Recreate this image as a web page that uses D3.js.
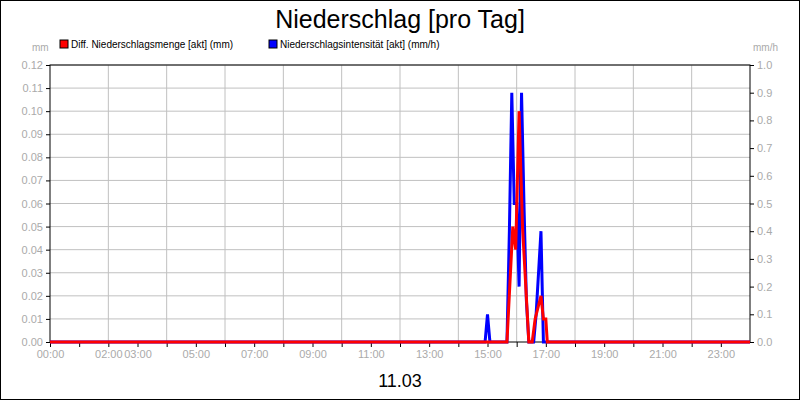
<!DOCTYPE html><html><head><meta charset="utf-8"><script src="https://cdn.jsdelivr.net/npm/d3@7"></script>
<style>body{margin:0}svg{font-family:"Liberation Sans",Arial,sans-serif}</style></head><body><svg id="c" width="800" height="400"></svg>
<script>
const tickHours=[0,2,3,5,7,9,11,13,15,17,19,21,23];
const leftTicks=[0,0.01,0.02,0.03,0.04,0.05,0.06,0.07,0.08,0.09,0.10,0.11,0.12];
const rightTicks=[0,0.1,0.2,0.3,0.4,0.5,0.6,0.7,0.8,0.9,1.0];
// time in hours, value
const redTimes=[0,15.667,15.867,15.967,16.083,16.2,16.417,16.533,16.633,16.833,16.917,17.0,17.05,24];
const redVals=[0,0,0.05,0.04,0.10,0.05,0,0,0.01,0.02,0.01,0.01,0,0];
const blueTimes=[0,14.917,15,15.083,15.583,15.667,15.75,15.833,15.917,16,16.083,16.167,16.25,16.333,16.417,16.583,16.667,16.833,16.917,24];
const blueVals=[0,0,0.1,0,0,0,0.4,0.9,0.5,0.5,0.2,0.9,0.5,0.15,0,0,0.1,0.4,0,0];

const svg=d3.select("#c");
const W=800,H=400,L=50,R=750,T=65,B=342;
svg.append("rect").attr("x",0.5).attr("y",0.5).attr("width",W-1).attr("height",H-1).attr("fill","#fff").attr("stroke","#000");
const x=d3.scaleLinear().domain([0,24]).range([L,R]);
const yL=d3.scaleLinear().domain([0,0.12]).range([B,T]);
const yR=d3.scaleLinear().domain([0,1]).range([B,T]);
const grey="#aaa";
const g=svg.append("g");
d3.range(2,24,2).forEach(h=>g.append("line").attr("x1",x(h)).attr("x2",x(h)).attr("y1",T).attr("y2",B).attr("stroke","#c0c0c0"));
leftTicks.slice(1).forEach(v=>g.append("line").attr("x1",L).attr("x2",R).attr("y1",yL(v)).attr("y2",yL(v)).attr("stroke","#c0c0c0"));
svg.append("rect").attr("x",L).attr("y",T).attr("width",R-L).attr("height",B-T).attr("fill","none").attr("stroke","#000");
const ax=svg.append("g").attr("transform",`translate(0,${B})`).call(d3.axisBottom(x).tickValues(d3.range(0,24)).tickSize(5).tickFormat(""));
const axl=svg.append("g").attr("transform",`translate(0,${B})`).call(d3.axisBottom(x).tickValues(tickHours).tickSize(0).tickPadding(8).tickFormat(h=>String(h).padStart(2,"0")+":00"));
const al=svg.append("g").attr("transform",`translate(${L},0)`).call(d3.axisLeft(yL).tickValues(leftTicks).tickSize(4).tickFormat(d3.format(".2f")));
const ar=svg.append("g").attr("transform",`translate(${R},0)`).call(d3.axisRight(yR).tickValues(rightTicks).tickSize(4).tickFormat(d3.format(".1f")));
[ax,axl,al,ar].forEach(a=>{a.select(".domain").remove();a.selectAll("line").attr("stroke","#000");a.selectAll("text").attr("fill",grey).attr("font-size",11).attr("font-family","Liberation Sans,Arial");});
const lineL=d3.line().x((d,i)=>x(redTimes[i])).y(d=>yL(d));
const lineR=d3.line().x((d,i)=>x(blueTimes[i])).y(d=>yR(d));
svg.append("path").attr("d",lineR(blueVals)).attr("fill","none").attr("stroke","#00f").attr("stroke-width",3);
svg.append("path").attr("d",lineL(redVals)).attr("fill","none").attr("stroke","#f00").attr("stroke-width",3);
svg.append("text").attr("x",400).attr("y",28).attr("text-anchor","middle").attr("font-size",25).text("Niederschlag [pro Tag]");
svg.append("text").attr("x",32).attr("y",51).attr("font-size",10).attr("fill",grey).text("mm");
svg.append("text").attr("x",753).attr("y",51).attr("font-size",10).attr("fill",grey).text("mm/h");
svg.append("rect").attr("x",60).attr("y",40).attr("width",8).attr("height",8).attr("fill","#f00").attr("stroke","#000");
svg.append("text").attr("x",71).attr("y",48).attr("font-size",10).text("Diff. Niederschlagsmenge [akt] (mm)");
svg.append("rect").attr("x",269).attr("y",40).attr("width",8).attr("height",8).attr("fill","#00f").attr("stroke","#000");
svg.append("text").attr("x",280).attr("y",48).attr("font-size",10).text("Niederschlagsintensität [akt] (mm/h)");
svg.append("text").attr("x",400).attr("y",387).attr("text-anchor","middle").attr("font-size",18).text("11.03");
</script></body></html>
